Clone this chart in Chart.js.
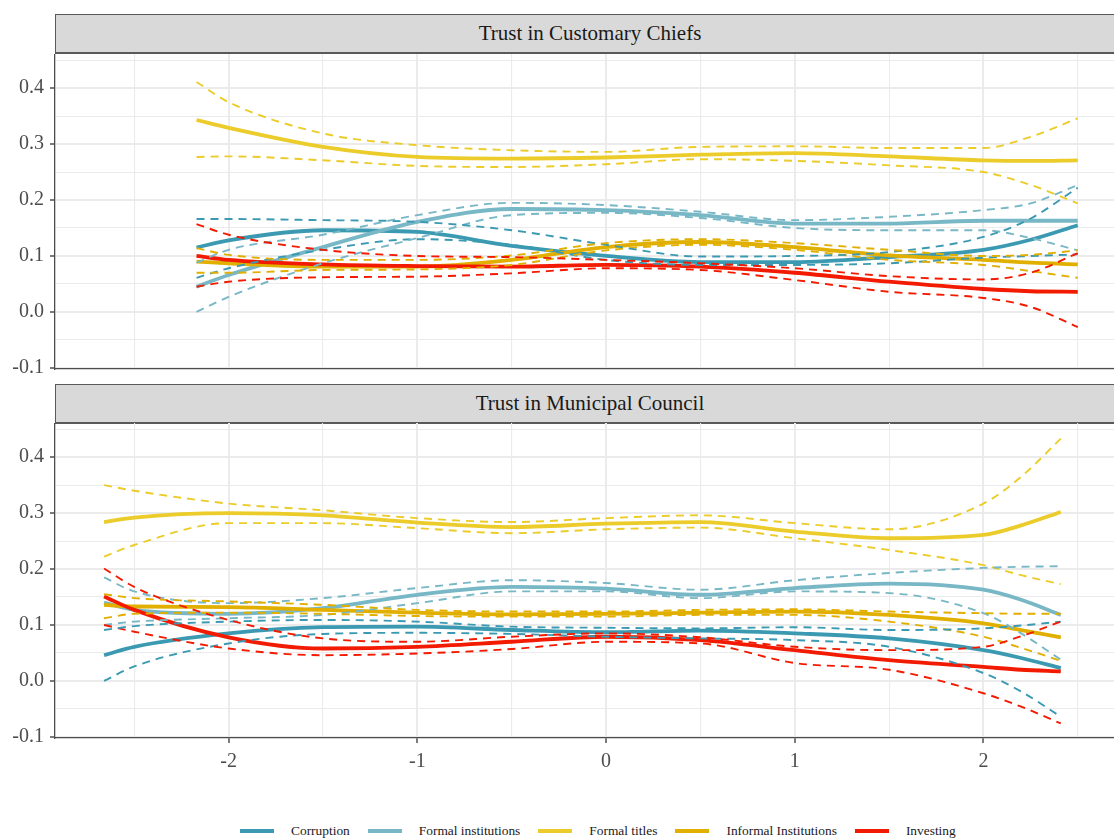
<!DOCTYPE html>
<html><head><meta charset="utf-8">
<script src="https://cdn.jsdelivr.net/npm/chart.js@4.4.1/dist/chart.umd.min.js"></script>
<style>
html,body{margin:0;padding:0;background:#fff;width:1114px;height:839px;overflow:hidden;position:relative;font-family:"Liberation Serif","Times New Roman",serif;}
canvas{position:absolute;left:0;}
.strip{position:absolute;left:55px;width:1070px;height:40px;box-sizing:border-box;background:#D9D9D9;border:1.5px solid #595959;border-bottom-width:2px;text-align:center;font-size:21px;line-height:37px;color:#1a1a1a;}
#legend{position:absolute;left:240px;top:821px;display:flex;align-items:center;font-size:13.4px;color:#1a1a1a;white-space:nowrap;line-height:20px;}
.item{display:flex;align-items:center;margin-right:18px;}
.key{display:inline-block;width:34px;height:4px;margin-right:17px;}
</style></head>
<body>
<div class="strip" style="top:14px">Trust in Customary Chiefs</div>
<canvas id="c1" width="1114" height="320" style="top:54px"></canvas>
<div class="strip" style="top:384px">Trust in Municipal Council</div>
<canvas id="c2" width="1114" height="360" style="top:423px"></canvas>
<div id="legend"></div>
<script>
// ---- categories / colours ----
const seriesNames = ['Corruption','Formal institutions','Formal titles','Informal Institutions','Investing'];
const seriesColors = ['#3B9AB2','#78B7C5','#EBCC2A','#E1AF00','#F21A00'];
const panelTitles = ['Trust in Customary Chiefs','Trust in Municipal Council'];

// ---- tick labels ----
const yTickValues = [-0.1,0,0.1,0.2,0.3,0.4];
const yTickLabels = ['-0.1','0.0','0.1','0.2','0.3','0.4'];
const yMinorValues = [-0.05,0.05,0.15,0.25,0.35,0.45];
const xTickValues = [-2,-1,0,1,2];
const xTickLabels = ['-2','-1','0','1','2'];
const xMinorValues = [-2.5,-1.5,-0.5,0.5,1.5,2.5];

// ---- panel 1: Trust in Customary Chiefs ----
const chiefsX = [-2.17,-2,-1.5,-1,-0.5,0,0.5,1,1.5,2,2.25,2.5];
const chiefsCorruptionFit = [0.115,0.128,0.146,0.143,0.118,0.100,0.089,0.089,0.098,0.111,0.129,0.155];
const chiefsCorruptionLo  = [0.061,0.078,0.111,0.130,0.120,0.093,0.084,0.084,0.087,0.097,0.100,0.103];
const chiefsCorruptionHi  = [0.166,0.166,0.164,0.161,0.146,0.120,0.099,0.100,0.107,0.134,0.167,0.222];
const chiefsFormalInstFit = [0.045,0.066,0.116,0.161,0.184,0.182,0.173,0.158,0.158,0.163,0.163,0.163];
const chiefsFormalInstLo  = [0.000,0.027,0.087,0.132,0.173,0.177,0.168,0.150,0.146,0.146,0.132,0.110];
const chiefsFormalInstHi  = [0.088,0.111,0.138,0.173,0.195,0.191,0.179,0.164,0.170,0.182,0.194,0.227];
const chiefsTitlesFit     = [0.343,0.329,0.295,0.277,0.274,0.276,0.281,0.284,0.278,0.271,0.270,0.271];
const chiefsTitlesLo      = [0.277,0.278,0.271,0.261,0.259,0.264,0.273,0.270,0.262,0.250,0.227,0.194];
const chiefsTitlesHi      = [0.411,0.375,0.319,0.298,0.289,0.286,0.295,0.296,0.293,0.293,0.313,0.346];
const chiefsInformalFit   = [0.090,0.087,0.081,0.081,0.093,0.116,0.125,0.116,0.101,0.093,0.088,0.085];
const chiefsInformalLo    = [0.070,0.070,0.075,0.076,0.084,0.110,0.120,0.111,0.093,0.084,0.073,0.061];
const chiefsInformalHi    = [0.114,0.102,0.093,0.093,0.101,0.123,0.130,0.123,0.111,0.100,0.102,0.110];
const chiefsInvestingFit  = [0.100,0.093,0.085,0.082,0.081,0.084,0.081,0.070,0.054,0.041,0.037,0.036];
const chiefsInvestingLo   = [0.045,0.054,0.062,0.063,0.069,0.078,0.075,0.057,0.036,0.025,0.009,-0.027];
const chiefsInvestingHi   = [0.157,0.138,0.111,0.100,0.098,0.093,0.087,0.078,0.064,0.058,0.070,0.105];

// ---- panel 2: Trust in Municipal Council ----
const councilX = [-2.66,-2.5,-2,-1.5,-1,-0.5,0,0.5,1,1.5,2,2.2,2.41];
const councilCorruptionFit = [0.046,0.061,0.085,0.096,0.097,0.091,0.087,0.090,0.085,0.076,0.055,0.041,0.023];
const councilCorruptionLo  = [0.000,0.026,0.067,0.084,0.086,0.084,0.079,0.076,0.073,0.061,0.014,-0.019,-0.064];
const councilCorruptionHi  = [0.091,0.098,0.106,0.109,0.106,0.097,0.095,0.094,0.096,0.091,0.094,0.099,0.106];
const councilFormalInstFit = [0.140,0.127,0.120,0.130,0.154,0.168,0.165,0.154,0.166,0.174,0.163,0.145,0.118];
const councilFormalInstLo  = [0.100,0.106,0.112,0.118,0.139,0.160,0.160,0.148,0.160,0.157,0.121,0.085,0.038];
const councilFormalInstHi  = [0.185,0.160,0.139,0.148,0.166,0.180,0.175,0.163,0.180,0.193,0.202,0.204,0.205];
const councilTitlesFit     = [0.284,0.292,0.300,0.296,0.283,0.275,0.281,0.284,0.267,0.255,0.261,0.278,0.302];
const councilTitlesLo      = [0.222,0.243,0.282,0.282,0.273,0.264,0.271,0.274,0.255,0.234,0.207,0.189,0.173];
const councilTitlesHi      = [0.350,0.340,0.317,0.305,0.291,0.284,0.291,0.296,0.282,0.271,0.317,0.365,0.433];
const councilInformalFit   = [0.136,0.133,0.132,0.127,0.122,0.119,0.120,0.122,0.124,0.118,0.103,0.091,0.078];
const councilInformalLo    = [0.112,0.120,0.122,0.120,0.116,0.115,0.115,0.118,0.118,0.106,0.079,0.059,0.036];
const councilInformalHi    = [0.155,0.148,0.142,0.136,0.127,0.124,0.124,0.127,0.128,0.124,0.121,0.120,0.120];
const councilInvestingFit  = [0.151,0.127,0.078,0.058,0.061,0.070,0.079,0.073,0.055,0.037,0.025,0.020,0.017];
const councilInvestingLo   = [0.100,0.088,0.058,0.046,0.049,0.057,0.070,0.067,0.032,0.020,-0.022,-0.046,-0.076];
const councilInvestingHi   = [0.201,0.168,0.109,0.076,0.070,0.079,0.085,0.078,0.061,0.055,0.061,0.080,0.106];

const chiefsSeries = [
  [chiefsCorruptionFit, chiefsCorruptionLo, chiefsCorruptionHi],
  [chiefsFormalInstFit, chiefsFormalInstLo, chiefsFormalInstHi],
  [chiefsTitlesFit, chiefsTitlesLo, chiefsTitlesHi],
  [chiefsInformalFit, chiefsInformalLo, chiefsInformalHi],
  [chiefsInvestingFit, chiefsInvestingLo, chiefsInvestingHi]
];
const councilSeries = [
  [councilCorruptionFit, councilCorruptionLo, councilCorruptionHi],
  [councilFormalInstFit, councilFormalInstLo, councilFormalInstHi],
  [councilTitlesFit, councilTitlesLo, councilTitlesHi],
  [councilInformalFit, councilInformalLo, councilInformalHi],
  [councilInvestingFit, councilInvestingLo, councilInvestingHi]
];

// ---- axis ranges ----
const X_MIN = -2.92, X_MAX = 2.692;
const Y_MIN = -0.102, Y_MAX = 0.461;
const FONT = "'Liberation Serif','Times New Roman',serif";

function isIn(arr, v){ return arr.some(a => Math.abs(a - v) < 1e-9); }
function noPad(s){ s.paddingTop = 0; s.paddingBottom = 0; s.paddingLeft = 0; s.paddingRight = 0; }

function buildDatasets(xs, seriesData){
  const ds = [];
  for (let layer = 0; layer < 3; layer++) {
    for (let i = 0; i < seriesNames.length; i++) {
      const ys = seriesData[i][layer];
      ds.push({
        label: seriesNames[i] + (layer === 0 ? '' : (layer === 1 ? ' lower' : ' upper')),
        data: xs.map((x, k) => ({x: x, y: ys[k]})),
        borderColor: seriesColors[i],
        borderWidth: layer === 0 ? 3.8 : 1.9,
        borderDash: layer === 0 ? [] : [8, 6],
        pointRadius: 0,
        fill: false,
        cubicInterpolationMode: 'monotone',
        order: 100 - (layer * 5 + i)
      });
    }
  }
  return ds;
}

function makeChart(id, xs, seriesData, showX){
  const allY = yTickValues.concat(yMinorValues).sort((a,b)=>a-b);
  const allX = xTickValues.concat(xMinorValues).sort((a,b)=>a-b);
  return new Chart(document.getElementById(id), {
    type: 'line',
    data: { datasets: buildDatasets(xs, seriesData) },
    options: {
      responsive: false, animation: false, devicePixelRatio: 1,
      layout: { padding: 0, autoPadding: false },
      plugins: { legend: { display: false }, tooltip: { enabled: false } },
      scales: {
        x: {
          type: 'linear', min: X_MIN, max: X_MAX,
          afterBuildTicks: s => { s.ticks = allX.map(v => ({value: v})); },
          afterFit: s => { s.height = showX ? 45 : 5; noPad(s); },
          grid: {
            color: '#EBEBEB',
            lineWidth: c => (c.tick && isIn(xTickValues, c.tick.value)) ? 2 : 1.1,
            drawTicks: showX, tickLength: 5, tickWidth: 1.3,
            tickColor: c => (c.tick && isIn(xTickValues, c.tick.value)) ? '#333333' : 'rgba(0,0,0,0)'
          },
          border: { display: true, color: '#4d4d4d', width: 1.3 },
          ticks: {
            display: showX, autoSkip: false, maxRotation: 0, padding: 7,
            color: '#4D4D4D', font: { family: FONT, size: 20 },
            callback: v => { const k = xTickValues.findIndex(a => Math.abs(a - v) < 1e-9); return k >= 0 ? xTickLabels[k] : ''; }
          }
        },
        y: {
          type: 'linear', min: Y_MIN, max: Y_MAX,
          afterBuildTicks: s => { s.ticks = allY.map(v => ({value: v})); },
          afterFit: s => { s.width = 55; noPad(s); },
          grid: {
            color: '#EBEBEB',
            lineWidth: c => (c.tick && isIn(yTickValues, c.tick.value)) ? 2 : 1.1,
            drawTicks: true, tickLength: 5, tickWidth: 1.3,
            tickColor: c => (c.tick && isIn(yTickValues, c.tick.value)) ? '#333333' : 'rgba(0,0,0,0)'
          },
          border: { display: true, color: '#4d4d4d', width: 1.3 },
          ticks: {
            autoSkip: false, padding: 6,
            color: '#4D4D4D', font: { family: FONT, size: 20 },
            callback: v => { const k = yTickValues.findIndex(a => Math.abs(a - v) < 1e-9); return k >= 0 ? yTickLabels[k] : ''; }
          }
        }
      }
    }
  });
}

makeChart('c1', chiefsX, chiefsSeries, false);
makeChart('c2', councilX, councilSeries, true);

// ---- legend ----
const leg = document.getElementById('legend');
seriesNames.forEach((n, i) => {
  const it = document.createElement('span'); it.className = 'item';
  const k = document.createElement('span'); k.className = 'key'; k.style.background = seriesColors[i];
  const t = document.createElement('span'); t.textContent = n;
  it.appendChild(k); it.appendChild(t); leg.appendChild(it);
});
</script>
</body></html>
